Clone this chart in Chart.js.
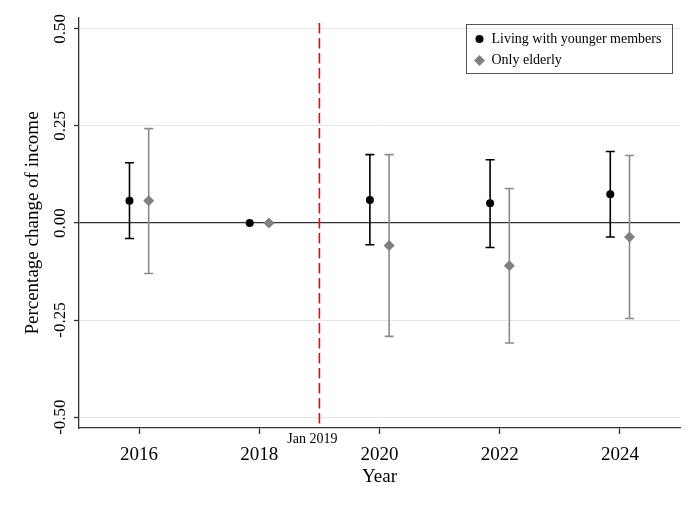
<!DOCTYPE html>
<html>
<head>
<meta charset="utf-8">
<script src="https://cdn.jsdelivr.net/npm/chart.js@4/dist/chart.umd.min.js"></script>
<style>
html,body{margin:0;padding:0;background:#fff;}
canvas{display:block;}
</style>
</head>
<body>
<canvas id="c" width="698" height="507"></canvas>
<script>
// ---- data ----
const years = [2016, 2018, 2020, 2022, 2024];
const youngerLabel = 'Living with younger members';
const youngerCoef = [0.057, 0.000, 0.059, 0.051, 0.074];
const youngerLow  = [-0.040, null, -0.056, -0.063, -0.036];
const youngerHigh = [0.155, null, 0.176, 0.163, 0.184];
const elderlyLabel = 'Only elderly';
const elderlyCoef = [0.057, 0.000, -0.058, -0.110, -0.036];
const elderlyLow  = [-0.130, null, -0.292, -0.309, -0.246];
const elderlyHigh = [0.243, null, 0.176, 0.089, 0.174];
const xTicks = [2016, 2018, 2020, 2022, 2024];
const yTicks = [-0.50, -0.25, 0.00, 0.25, 0.50];
const eventYear = 2019;
const eventLabel = 'Jan 2019';
const yTitle = 'Percentage change of income';
const xTitle = 'Year';
const shift = 0.16;

const SERIF = '"Liberation Serif", "DejaVu Serif", serif';
const BLACK = '#000000';
const GREY = '#808080';
const GREYBAR = '#8c8c8c';

const series = [
  {label: youngerLabel, coef: youngerCoef, low: youngerLow, high: youngerHigh, dx: -shift, color: BLACK, bar: BLACK, style: 'circle', r: 4},
  {label: elderlyLabel, coef: elderlyCoef, low: elderlyLow, high: elderlyHigh, dx: shift, color: GREY, bar: GREYBAR, style: 'rectRot', r: 5.5}
];

const datasets = series.map(s => ({
  label: s.label,
  data: years.map((y, i) => ({x: y + s.dx, y: s.coef[i]})),
  backgroundColor: s.color,
  borderColor: s.color,
  borderWidth: 0,
  pointStyle: s.style,
  pointRadius: s.r,
  pointHoverRadius: s.r
}));

const extras = {
  id: 'extras',
  beforeDatasetsDraw(chart) {
    const {ctx, chartArea} = chart;
    const xs = chart.scales.x, ys = chart.scales.y;
    // event line
    const ex = xs.getPixelForValue(eventYear);
    ctx.save();
    ctx.strokeStyle = '#ff0000';
    ctx.lineWidth = 1.6;
    ctx.setLineDash([10.5, 4.5]);
    ctx.beginPath();
    ctx.moveTo(ex, chartArea.top + 5);
    ctx.lineTo(ex, chartArea.bottom);
    ctx.stroke();
    ctx.restore();
    // error bars
    series.forEach(s => {
      ctx.save();
      ctx.strokeStyle = s.bar;
      ctx.lineWidth = 1.6;
      years.forEach((yr, i) => {
        if (s.low[i] === null || s.high[i] === null) return;
        const px = xs.getPixelForValue(yr + s.dx);
        const y1 = ys.getPixelForValue(s.low[i]);
        const y2 = ys.getPixelForValue(s.high[i]);
        ctx.beginPath();
        ctx.moveTo(px, y1); ctx.lineTo(px, y2);
        ctx.moveTo(px - 4.5, y1); ctx.lineTo(px + 4.5, y1);
        ctx.moveTo(px - 4.5, y2); ctx.lineTo(px + 4.5, y2);
        ctx.stroke();
      });
      ctx.restore();
    });
  },
  afterDraw(chart) {
    const {ctx, chartArea} = chart;
    const xs = chart.scales.x, ys = chart.scales.y;
    ctx.save();
    ctx.fillStyle = '#000';
    // y tick labels rotated
    ctx.font = '17px ' + SERIF;
    ctx.textAlign = 'center';
    ctx.textBaseline = 'middle';
    yTicks.forEach(v => {
      ctx.save();
      ctx.translate(61, ys.getPixelForValue(v));
      ctx.rotate(-Math.PI / 2);
      ctx.fillText(v.toFixed(2), 0, 0);
      ctx.restore();
    });
    // y title
    ctx.font = '19px ' + SERIF;
    ctx.save();
    ctx.translate(33, (chartArea.top + chartArea.bottom) / 2);
    ctx.rotate(-Math.PI / 2);
    ctx.fillText(yTitle, 0, 0);
    ctx.restore();
    // event label
    ctx.font = '14px ' + SERIF;
    ctx.fillText(eventLabel, xs.getPixelForValue(eventYear) - 7, chartArea.bottom + 11);
    // legend
    const lx = chartArea.right - 213.5, ly = chartArea.top + 6.5, lw = 206, lh = 49;
    ctx.strokeStyle = '#555';
    ctx.lineWidth = 1;
    ctx.strokeRect(lx, ly, lw, lh);
    ctx.font = '14px ' + SERIF;
    ctx.textAlign = 'left';
    series.forEach((s, i) => {
      const cy = ly + 14.5 + i * 21.5;
      const cx = lx + 13;
      ctx.fillStyle = s.color;
      ctx.beginPath();
      if (s.style === 'circle') {
        ctx.arc(cx, cy, 4, 0, Math.PI * 2);
      } else {
        ctx.moveTo(cx, cy - 5.5); ctx.lineTo(cx + 5.5, cy); ctx.lineTo(cx, cy + 5.5); ctx.lineTo(cx - 5.5, cy); ctx.closePath();
      }
      ctx.fill();
      ctx.fillStyle = '#000';
      ctx.fillText(s.label, lx + 25, cy);
    });
    ctx.restore();
  }
};

new Chart(document.getElementById('c'), {
  type: 'scatter',
  data: {datasets},
  options: {
    responsive: false,
    animation: false,
    devicePixelRatio: 1,
    layout: {padding: {top: 18, right: 18, bottom: 0, left: 0}},
    plugins: {legend: {display: false}, tooltip: {enabled: false}},
    scales: {
      x: {
        type: 'linear', min: 2015, max: 2025,
        afterBuildTicks: s => { s.ticks = xTicks.map(v => ({value: v})); },
        afterFit: s => { s.height = 79; },
        ticks: {font: {family: SERIF, size: 19}, color: '#000', padding: 10, maxRotation: 0, callback: v => String(v)},
        grid: {drawOnChartArea: false, drawTicks: true, tickLength: 6, tickColor: '#333', tickWidth: 1.3},
        border: {display: true, color: '#333', width: 1.3},
        title: {display: true, text: xTitle, font: {family: SERIF, size: 19}, color: '#000', padding: {top: 0, bottom: 19}}
      },
      y: {
        type: 'linear', min: -0.528, max: 0.528,
        afterBuildTicks: s => { s.ticks = yTicks.map(v => ({value: v})); },
        afterFit: s => { s.width = 79; },
        ticks: {display: false},
        grid: {
          color: c => (c.tick && Math.abs(c.tick.value) < 1e-9) ? '#333' : '#e6e6e6',
          lineWidth: c => (c.tick && Math.abs(c.tick.value) < 1e-9) ? 1.3 : 1,
          drawTicks: true, tickLength: 5, tickColor: '#333', tickWidth: 1.3
        },
        border: {display: true, color: '#333', width: 1.3}
      }
    }
  },
  plugins: [extras]
});
</script>
</body>
</html>
